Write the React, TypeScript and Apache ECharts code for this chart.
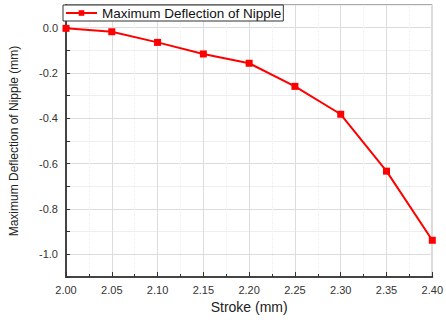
import React, { useEffect, useRef } from "react";
import * as echarts from "echarts";

const strokes = [2.0, 2.05, 2.1, 2.15, 2.2, 2.25, 2.3, 2.35, 2.4];
const deflection = [-0.003, -0.018, -0.065, -0.116, -0.157, -0.259, -0.382, -0.633, -0.938];
const seriesName = "Maximum Deflection of Nipple";
const xAxisName = "Stroke (mm)";
const yAxisName = "Maximum Deflection of Nipple (mm)";

export default function App() {
  const ref = useRef<HTMLDivElement>(null);
  useEffect(() => {
    if (!ref.current) return;
    const chart = echarts.init(ref.current, undefined, { renderer: "svg" });
    const font = "Liberation Sans, Arial, sans-serif";
    chart.setOption({
      animation: false,
      backgroundColor: "#ffffff",
      grid: {
        left: 64,
        right: 12,
        top: 5,
        bottom: 43,
        show: true,
        borderColor: "#555",
        borderWidth: 1,
      },
      legend: {
        left: 63,
        top: 5,
        data: [seriesName],
        backgroundColor: "#fff",
        borderColor: "#333",
        borderWidth: 1,
        borderRadius: 0,
        padding: [1, 2, 1, 2],
        itemWidth: 31,
        itemHeight: 7,
        itemGap: 4,
        textStyle: { fontFamily: font, fontSize: 13.5, color: "#111" },
      },
      xAxis: {
        type: "value",
        min: 2.0,
        max: 2.4,
        interval: 0.05,
        name: xAxisName,
        nameLocation: "middle",
        nameGap: 22,
        nameTextStyle: { fontFamily: font, fontSize: 14, color: "#222" },
        axisLine: { show: true, onZero: false, lineStyle: { color: "#444", width: 2 } },
        axisTick: { show: true, inside: true, length: 5, lineStyle: { color: "#333" } },
        minorTick: { show: true, splitNumber: 2, length: 3, lineStyle: { color: "#333" } },
        axisLabel: {
          fontFamily: font,
          fontSize: 11,
          color: "#333",
          margin: 7,
          formatter: (v: number) => v.toFixed(2),
        },
        splitLine: { show: true, lineStyle: { color: "#dcdcdc", width: 1 } },
        minorSplitLine: { show: true, lineStyle: { color: "#eeeeee", type: "dotted" } },
      },
      yAxis: {
        type: "value",
        min: -1.1,
        max: 0.1,
        interval: 0.1,
        name: yAxisName,
        nameLocation: "middle",
        nameGap: 46,
        nameTextStyle: { fontFamily: font, fontSize: 12, color: "#222" },
        axisLine: { show: true, onZero: false, lineStyle: { color: "#444", width: 2 } },
        axisTick: { show: true, inside: true, length: 4, lineStyle: { color: "#333" } },
        axisLabel: {
          fontFamily: font,
          fontSize: 11,
          color: "#333",
          margin: 8,
          formatter: (v: number) => {
            const k = Math.round(v * 10);
            if (k % 2 !== 0) return "";
            return (k / 10).toFixed(1);
          },
        },
        splitLine: {
          show: true,
          lineStyle: { color: ["#eeeeee", "#dcdcdc"], width: 1 },
        },
      },
      series: [
        {
          name: seriesName,
          type: "line",
          data: strokes.map((s, i) => [s, deflection[i]]),
          color: "#ff0000",
          lineStyle: { color: "#ff0000", width: 2 },
          symbol: "rect",
          symbolSize: 7,
          itemStyle: { color: "#ff0000" },
          clip: false,
        },
      ],
    });
    return () => chart.dispose();
  }, []);
  return (
    <div
      ref={ref}
      style={{ position: "absolute", left: 0, top: 0, width: 446, height: 320 }}
    />
  );
}
